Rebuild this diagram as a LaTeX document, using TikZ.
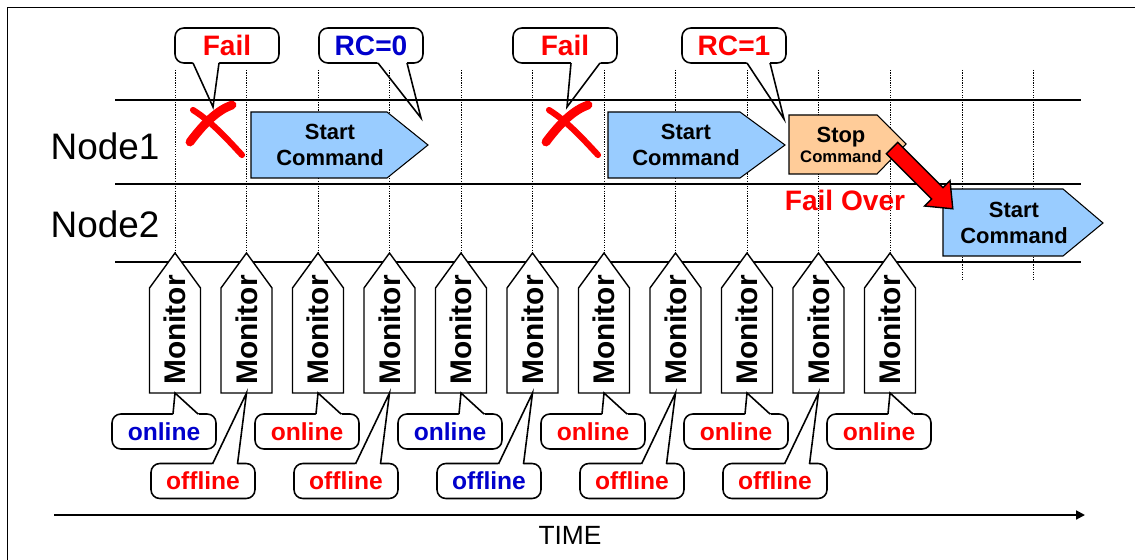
\documentclass[tikz,border=0pt]{standalone}
\usepackage{fontspec}
\setmainfont{Liberation Sans}
\usetikzlibrary{calc,arrows.meta}

\definecolor{startblue}{RGB}{153,204,255}
\definecolor{stoporange}{RGB}{255,204,153}
\definecolor{okblue}{RGB}{0,0,204}

% house shaped monitor box with its text
\newcommand{\Monitor}[2]{%
  \draw[monbox] (#2-25.5,393) -- (#2-25.5,288) -- (#2,253) -- (#2+25.5,288) -- (#2+25.5,393) -- cycle;
  \node[montext] (#1) at (#2,330) {Monitor};}
% pointer of a speech bubble: base left, tip, base right
\newcommand{\Pointer}[3]{%
  \fill[white] ($(#1)!-2pt!(#2)$) -- (#1) -- (#2) -- (#3) -- ($(#3)!-2pt!(#2)$) -- cycle;
  \draw[bubbleline] (#1) -- (#2) -- (#3);}
\newcommand{\Online}[3]{%
  \node[bubble, text=#3] (#1) at (#2-11,431.5) {online};
  \Pointer{#2-2,414}{#2,393}{#2+23,414}}
\newcommand{\Offline}[3]{%
  \node[bubble, text=#3] (#1) at (#2-43.5,481) {offline};
  \Pointer{#2-34,464}{#2,393}{#2-9,464}}

\begin{document}
\begin{tikzpicture}[x=0.02cm, y=-0.02cm]
    \tikzset{hline/.style={line width=1.4pt},
             grid/.style={line width=0.5pt, dash pattern=on 0.7pt off 0.7pt},
             cmdbox/.style={draw, line width=0.6pt},
             cmdtext/.style={align=center, font=\fontsize{12.5}{14.8}\selectfont\bfseries},
             monbox/.style={draw, fill=white, line width=0.8pt},
             montext/.style={rotate=90, font=\fontsize{17}{17}\selectfont\bfseries},
             bubble/.style={draw, fill=white, rounded corners=5pt, line width=0.9pt,
                            minimum width=2.08cm, minimum height=0.7cm, inner sep=0pt,
                            font=\fontsize{14}{14}\selectfont\bfseries},
             topbubble/.style={bubble, font=\fontsize{16}{16}\selectfont\bfseries},
             bubbleline/.style={line width=0.9pt},
             lane/.style={font=\fontsize{21}{21}\selectfont},
             crossmark/.style={red, line cap=round}}
    \useasboundingbox (0,0) rectangle (1135,560);
    \draw[line width=0.8pt] (7.5,560) -- (7.5,7.5) -- (1135,7.5);

    % results on top
    \node[topbubble, text=red] (fail1) at (227,45.5) {Fail};
    \Pointer{193,63}{213,107}{219,63}
    \node[topbubble, text=okblue] (rc0) at (371,45.5) {RC=0};
    \Pointer{378,63}{421,118}{407,63}
    \node[topbubble, text=red] (fail2) at (565,45.5) {Fail};
    \Pointer{571,63}{567,107}{600,63}
    \node[topbubble, text=red] (rc1) at (734,45.5) {RC=1};
    \Pointer{747,63}{784,119}{770,63}

    % time grid
    \draw[grid] (175,70) -- (175,255) (246.5,70) -- (246.5,255) (318,70) -- (318,255)
                (389.5,70) -- (389.5,255) (461,70) -- (461,255) (532.5,70) -- (532.5,255)
                (604,70) -- (604,255) (675.5,70) -- (675.5,255) (747,70) -- (747,255)
                (818.5,70) -- (818.5,255) (890,70) -- (890,255)
                (962,70) -- (962,280) (1033,70) -- (1033,280);
    \draw[hline] (115,100) -- (1081,100);
    \draw[hline] (115,184) -- (1081,184);
    \draw[hline] (115,262) -- (1081,262);

    \node[lane] (node1) at (105,146) {Node1};
    \node[lane] (node2) at (105,224) {Node2};

    % commands
    \draw[cmdbox, fill=startblue] (251,112) -- (387,112) -- (428,145) -- (387,178) -- (251,178) -- cycle;
    \node[cmdtext] (start1) at (330,145) {Start\\Command};
    \draw[cmdbox, fill=startblue] (608,112) -- (740,112) -- (785,145) -- (740,178) -- (608,178) -- cycle;
    \node[cmdtext] (start2) at (686,145) {Start\\Command};
    \draw[cmdbox, fill=stoporange] (789,115) -- (877,115) -- (906,144) -- (877,174) -- (789,174) -- cycle;
    \node[cmdtext] (stop) at (841,145) {Stop\\[-3pt]{\fontsize{9.5}{9.5}\selectfont Command}};
    \draw[cmdbox, fill=startblue] (943,189) -- (1063,189) -- (1103,223) -- (1063,256) -- (943,256) -- cycle;
    \node[cmdtext] (start3) at (1014,223) {Start\\Command};

    % failures
    \draw[crossmark, line width=5pt] (190,142) .. controls (205,122) and (218,110) .. (232,105);
    \draw[crossmark, line width=3.5pt] (193,110) .. controls (212,122) and (228,140) .. (242,155);
    \draw[crossmark, line width=5pt] (546,142) .. controls (561,122) and (574,110) .. (588,105);
    \draw[crossmark, line width=3.5pt] (549,110) .. controls (568,122) and (584,140) .. (598,155);

    % fail over
    \draw[fill=red, line width=0.8pt] (897.7,142.3) -- (942.9,187.6) -- (950,180.5) -- (952.8,208.8)
        -- (924.5,206) -- (931.6,198.9) -- (886.3,153.7) -- cycle;
    \node[text=red, font=\fontsize{16}{16}\selectfont\bfseries] (failover) at (845,200) {Fail Over};

    % monitors
    \Monitor{mon1}{175}
    \Monitor{mon2}{246.5}
    \Monitor{mon3}{318}
    \Monitor{mon4}{389.5}
    \Monitor{mon5}{461}
    \Monitor{mon6}{532.5}
    \Monitor{mon7}{604}
    \Monitor{mon8}{675.5}
    \Monitor{mon9}{747}
    \Monitor{mon10}{818.5}
    \Monitor{mon11}{890}

    \Online{res1}{175}{okblue}
    \Offline{res2}{246.5}{red}
    \Online{res3}{318}{red}
    \Offline{res4}{389.5}{red}
    \Online{res5}{461}{okblue}
    \Offline{res6}{532.5}{okblue}
    \Online{res7}{604}{red}
    \Offline{res8}{675.5}{red}
    \Online{res9}{747}{red}
    \Offline{res10}{818.5}{red}
    \Online{res11}{890}{red}

    % time axis
    \coordinate (t0) at (54,515);
    \coordinate (t1) at (1085,515);
    \draw[line width=1.1pt, -{Triangle[length=5pt,width=5pt]}] (t0) -- (t1);
    \node[font=\fontsize{15}{15}\selectfont] (time) at (570,535) {TIME};
\end{tikzpicture}
\end{document}
